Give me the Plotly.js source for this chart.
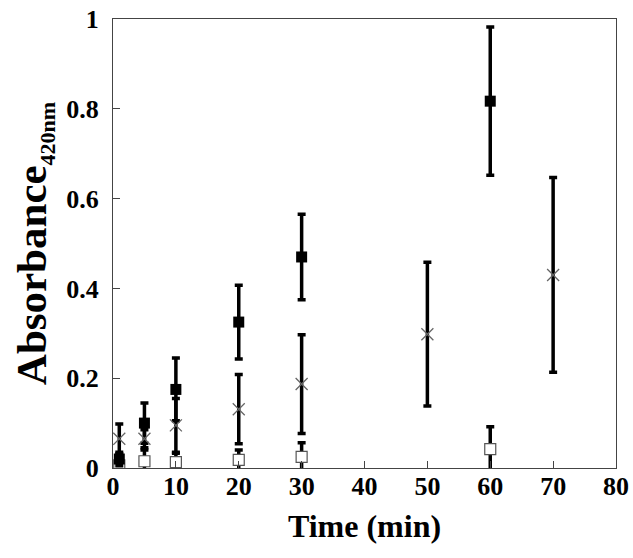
<!DOCTYPE html>
<html>
<head>
<meta charset="utf-8">
<script src="https://cdn.plot.ly/plotly-3.0.1.min.js"></script>
<style>html,body{margin:0;padding:0;background:#fff;}#chart{width:633px;height:558px;}</style>
</head>
<body>
<div id="chart"></div>
<script>
// Filled squares
const timeA = [1, 5, 10, 20, 30, 60];
const absA  = [0.02, 0.10, 0.175, 0.325, 0.47, 0.817];
const errA  = [0.015, 0.045, 0.07, 0.082, 0.095, 0.165];
// Crosses
const timeB = [1, 5, 10, 20, 30, 50, 70];
const absB  = [0.065, 0.065, 0.095, 0.131, 0.187, 0.298, 0.43];
const errB  = [0.033, 0.02, 0.06, 0.077, 0.11, 0.16, 0.217];
// Open squares
const timeC = [1, 5, 10, 20, 30, 60];
const absC  = [0.006, 0.015, 0.013, 0.018, 0.025, 0.042];
const errC  = [0.01, 0.025, 0.02, 0.022, 0.031, 0.05];

const xTicks = [0, 10, 20, 30, 40, 50, 60, 70, 80];
const yTicks = [0, 0.2, 0.4, 0.6, 0.8, 1];
const yTickText = ['0', '0.2', '0.4', '0.6', '0.8', '1'];

const eb = (arr) => ({type: 'data', array: arr, visible: true, color: '#000', thickness: 3.5, width: 4});

const traces = [
  {x: timeC, y: absC, error_y: eb(errC), type: 'scatter', mode: 'markers',
   marker: {symbol: 'square', size: 11, color: '#fff', line: {color: '#555', width: 1.2}}},
  {x: timeA, y: absA, error_y: eb(errA), type: 'scatter', mode: 'markers',
   marker: {symbol: 'square', size: 11, color: '#000', line: {width: 0}}},
  {x: timeB, y: absB, error_y: eb(errB), type: 'scatter', mode: 'markers',
   marker: {symbol: 'x-thin-open', size: 12, color: '#666', line: {color: '#666', width: 1.3}}}
];

const fontFam = '"Liberation Serif", "Times New Roman", serif';

const layout = {
  width: 633, height: 558,
  margin: {l: 113, r: 17, t: 19, b: 90},
  paper_bgcolor: '#fff', plot_bgcolor: '#fff',
  showlegend: false,
  font: {family: fontFam, color: '#000'},
  xaxis: {
    range: [0, 80], tickvals: xTicks, ticks: 'inside', ticklen: 7, tickwidth: 1, tickcolor: '#444',
    showline: true, linecolor: '#444', linewidth: 1, mirror: true, showgrid: false, zeroline: false,
    ticklabelstandoff: -5,
    tickfont: {family: fontFam, size: 26, weight: 'bold', color: '#000'},
    title: {text: 'Time (min)', font: {family: fontFam, size: 32, weight: 'bold', color: '#000'}, standoff: 14}
  },
  yaxis: {
    range: [0, 1], tickvals: yTicks, ticktext: yTickText, ticks: 'inside', ticklen: 7, tickwidth: 1, tickcolor: '#444',
    showline: true, linecolor: '#444', linewidth: 1, mirror: true, showgrid: false, zeroline: false,
    ticklabelstandoff: 8,
    tickfont: {family: fontFam, size: 26, weight: 'bold', color: '#000'},
    title: {text: 'Absorbance<sub><span style="font-size:22px">420nm</span></sub>', font: {family: fontFam, size: 43, weight: 'bold', color: '#000'}, standoff: 6}
  }
};

Plotly.newPlot('chart', traces, layout, {staticPlot: true, displayModeBar: false});
</script>
</body>
</html>
